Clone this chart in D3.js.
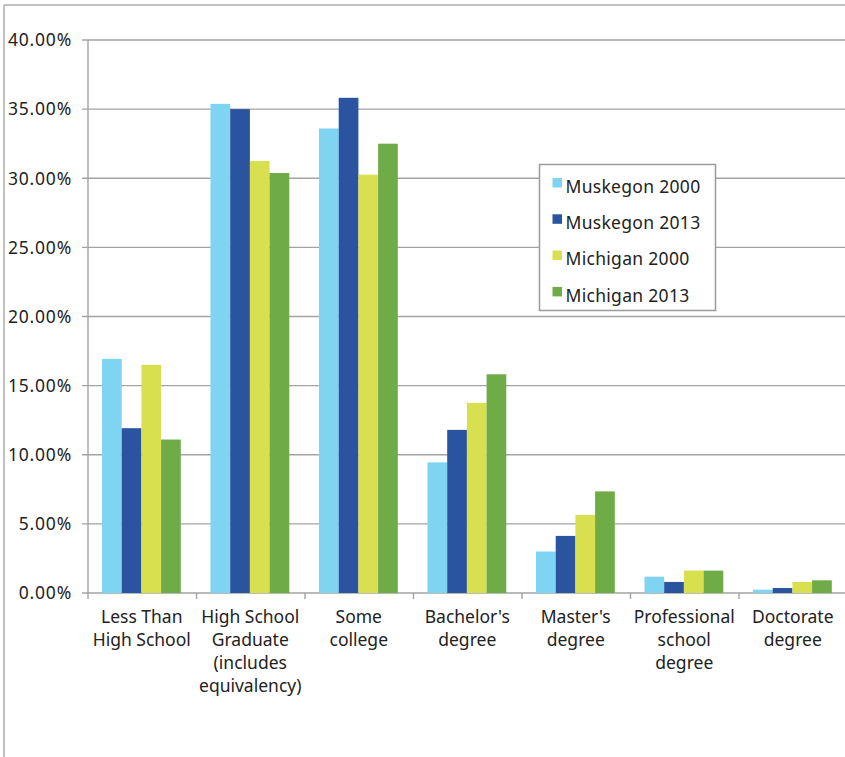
<!DOCTYPE html>
<html>
<head>
<meta charset="utf-8">
<script src="https://cdn.jsdelivr.net/npm/d3@7.9.0/dist/d3.min.js"></script>
<style>
  body { margin: 0; background: #fff; }
  svg { display: block; font-family: 'Noto Sans', sans-serif; }
</style>
</head>
<body>
<div id="chart"></div>
<script>
// Chart data
const categories = [
  ['Less Than', 'High School'],
  ['High School', 'Graduate', '(includes', 'equivalency)'],
  ['Some', 'college'],
  ["Bachelor's", 'degree'],
  ["Master's", 'degree'],
  ['Professional', 'school', 'degree'],
  ['Doctorate', 'degree']
];
const series = ['Muskegon 2000', 'Muskegon 2013', 'Michigan 2000', 'Michigan 2013'];
const muskegon2000 = [16.93, 35.38, 33.6, 9.45, 3.0, 1.18, 0.24];
const muskegon2013 = [11.92, 35.0, 35.82, 11.8, 4.13, 0.8, 0.36];
const michigan2000 = [16.5, 31.25, 30.26, 13.75, 5.65, 1.62, 0.8];
const michigan2013 = [11.1, 30.38, 32.5, 15.82, 7.35, 1.62, 0.92];
const yTicks = [0, 5, 10, 15, 20, 25, 30, 35, 40];
const colors = ['#7fd4f2', '#2a54a0', '#d9e050', '#6fab46'];

const seriesValues = [muskegon2000, muskegon2013, michigan2000, michigan2013];

const width = 845;
const height = 757;
const plot = { left: 88, right: 847, top: 40, bottom: 593 };
const fontSize = 17.5;

const svg = d3.select('#chart')
  .append('svg')
  .attr('width', width)
  .attr('height', height);

// Outer frame (top and left edges visible)
svg.append('line')
  .attr('x1', 4).attr('x2', width).attr('y1', 5).attr('y2', 5)
  .attr('stroke', '#adadad').attr('stroke-width', 1.5);
svg.append('line')
  .attr('x1', 4).attr('x2', 4).attr('y1', 5).attr('y2', height)
  .attr('stroke', '#adadad').attr('stroke-width', 1.5);

const keys = categories.map((d, i) => i);

const x0 = d3.scaleBand()
  .domain(keys)
  .range([plot.left - 0.5, plot.left - 0.5 + 7 * 108.5]);

const x1 = d3.scaleBand()
  .domain(series)
  .range([14.5, x0.bandwidth() - 15.2]);

const y = d3.scaleLinear()
  .domain([0, 40])
  .range([plot.bottom, plot.top]);

// Gridlines
svg.append('g')
  .selectAll('line')
  .data(yTicks)
  .join('line')
  .attr('x1', plot.left - 6)
  .attr('x2', width)
  .attr('y1', d => y(d))
  .attr('y2', d => y(d))
  .attr('stroke', '#a3a3a3')
  .attr('stroke-width', 1.4);

// Y axis line
svg.append('line')
  .attr('x1', plot.left).attr('x2', plot.left)
  .attr('y1', plot.top).attr('y2', plot.bottom)
  .attr('stroke', '#a3a3a3').attr('stroke-width', 1.4);

// Y tick labels
svg.append('g')
  .selectAll('text')
  .data(yTicks)
  .join('text')
  .attr('x', 72)
  .attr('y', d => y(d))
  .attr('dy', '0.36em')
  .attr('text-anchor', 'end')
  .attr('font-size', fontSize)
  .attr('letter-spacing', 0.8)
  .attr('fill', '#222')
  .text(d => d.toFixed(2) + '%');

// X axis tick marks at category boundaries
svg.append('g')
  .selectAll('line')
  .data(keys)
  .join('line')
  .attr('x1', d => x0(d) + 0.5)
  .attr('x2', d => x0(d) + 0.5)
  .attr('y1', plot.bottom)
  .attr('y2', plot.bottom + 6)
  .attr('stroke', '#a3a3a3')
  .attr('stroke-width', 1.4);

// Bars
const groups = svg.append('g')
  .selectAll('g')
  .data(keys)
  .join('g')
  .attr('transform', d => `translate(${x0(d)},0)`);

groups.selectAll('rect')
  .data(i => series.map((s, j) => ({ s, j, v: seriesValues[j][i] })))
  .join('rect')
  .attr('x', d => x1(d.s))
  .attr('width', x1.bandwidth())
  .attr('y', d => y(d.v))
  .attr('height', d => y(0) - y(d.v))
  .attr('fill', d => colors[d.j]);

// Category labels
const labels = svg.append('g')
  .selectAll('text')
  .data(keys)
  .join('text')
  .attr('text-anchor', 'middle')
  .attr('font-size', fontSize)
  .attr('fill', '#222')
  .attr('x', d => x0(d) + x0.bandwidth() / 2)
  .attr('y', 617);

labels.selectAll('tspan')
  .data(d => categories[d].map((t, k) => ({ t, k, x: x0(d) + x0.bandwidth() / 2 })))
  .join('tspan')
  .attr('x', d => d.x)
  .attr('y', d => 617 + d.k * 23)
  .attr('dy', '0.36em')
  .text(d => d.t);

// Legend
const legend = svg.append('g').attr('transform', 'translate(539.5,164.5)');
legend.append('rect')
  .attr('width', 176)
  .attr('height', 146)
  .attr('fill', '#fff')
  .attr('stroke', '#9a9a9a')
  .attr('stroke-width', 1.5);

const items = legend.selectAll('g')
  .data(series)
  .join('g')
  .attr('transform', (d, i) => `translate(0,${22 + i * 36.3})`);

items.append('rect')
  .attr('x', 13)
  .attr('y', -8.5)
  .attr('width', 9.5)
  .attr('height', 9.5)
  .attr('fill', (d, i) => colors[i]);

items.append('text')
  .attr('x', 26)
  .attr('y', 0)
  .attr('dy', '0.36em')
  .attr('font-size', fontSize)
  .attr('letter-spacing', 0.3)
  .attr('fill', '#222')
  .text(d => d);
</script>
</body>
</html>
